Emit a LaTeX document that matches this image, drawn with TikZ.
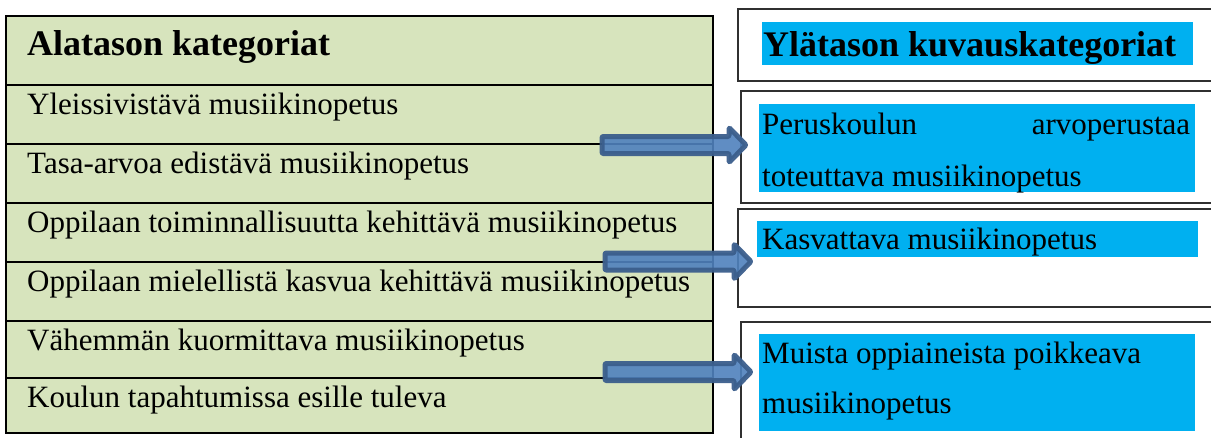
\documentclass[tikz,border=0pt]{standalone}
\usepackage{fontspec}
\setmainfont{Liberation Serif}
\usetikzlibrary{calc}
\definecolor{tablegreen}{HTML}{D7E4BD}
\definecolor{hlcyan}{HTML}{00B0F0}
\definecolor{arrowfill}{HTML}{4F81BD}
\definecolor{arrowedge}{HTML}{3B5E8C}
\definecolor{boxedge}{HTML}{303030}
\tikzset{
  regtext/.style={inner sep=0pt, anchor=base west, font=\fontsize{31}{37}\selectfont},
  titletext/.style={inner sep=0pt, anchor=base west, font=\fontsize{36}{43}\selectfont\bfseries},
  rowline/.style={draw=black, line width=1.3pt},
  rbox/.style={draw=boxedge, line width=1.5pt},
  highlight/.style={fill=hlcyan, draw=none},
  blockarrow/.style={draw=arrowedge, line width=5pt, fill=arrowfill, fill opacity=0.9, draw opacity=0.95, line join=round, rounded corners=1pt}
}
\begin{document}
\begin{tikzpicture}[x=1pt,y=-1pt]
\useasboundingbox (0,0) rectangle (1211,437);
\clip (0,0) rectangle (1211,437);
% left table
\draw[fill=tablegreen, line width=1.5pt] (6,16) rectangle (713,433);
\foreach \yy in {85,144,203,262,321,378} \draw[rowline] (6,\yy) -- (713,\yy);
\node[titletext] (lt) at (27,55) {Alatason kategoriat};
\node[regtext] (l1) at (27,114) {Yleissivistävä musiikinopetus};
\node[regtext] (l2) at (27,173) {Tasa-arvoa edistävä musiikinopetus};
\node[regtext] (l3) at (27,232) {Oppilaan toiminnallisuutta kehittävä musiikinopetus};
\node[regtext] (l4) at (27,291) {Oppilaan mielellistä kasvua kehittävä musiikinopetus};
\node[regtext] (l5) at (27,350) {Vähemmän kuormittava musiikinopetus};
\node[regtext] (l6) at (27,407) {Koulun tapahtumissa esille tuleva};
% right boxes
\draw[rbox] (738,9) rectangle (1230,81);
\draw[rbox] (741,91) rectangle (1230,203);
\draw[rbox] (738,209) rectangle (1230,307);
\draw[rbox] (741,322) rectangle (1230,460);
\fill[highlight] (762,22) rectangle (1193,65);
\fill[highlight] (759,104) rectangle (1195,192);
\fill[highlight] (757,221) rectangle (1198,257);
\fill[highlight] (759,334) rectangle (1195,431);
\node[titletext] (rt) at (763,56) {Ylätason kuvauskategoriat};
\node[regtext] (r1a) at (762,134) {\makebox[428pt][s]{Peruskoulun\hfill arvoperustaa}};
\node[regtext] (r1b) at (762,186) {toteuttava musiikinopetus};
\node[regtext] (r2) at (762,249) {Kasvattava musiikinopetus};
\node[regtext] (r3a) at (762,363) {Muista oppiaineista poikkeava};
\node[regtext] (r3b) at (762,413) {musiikinopetus};
% arrows
\coordinate (s1) at (602,145); \coordinate (t1) at (746,145);
\coordinate (s2) at (605,261.5); \coordinate (t2) at (751,261.5);
\coordinate (s3) at (605,372); \coordinate (t3) at (751,372);
\foreach \s/\t in {s1/t1,s2/t2,s3/t3}{
  \draw[blockarrow] ($(\s)+(0,-8.5)$) -- ($(\t)+(-17,-8.5)$) -- ($(\t)+(-17,-17.5)$) -- (\t)
    -- ($(\t)+(-17,17.5)$) -- ($(\t)+(-17,8.5)$) -- ($(\s)+(0,8.5)$) -- cycle;
}
\end{tikzpicture}
\end{document}
